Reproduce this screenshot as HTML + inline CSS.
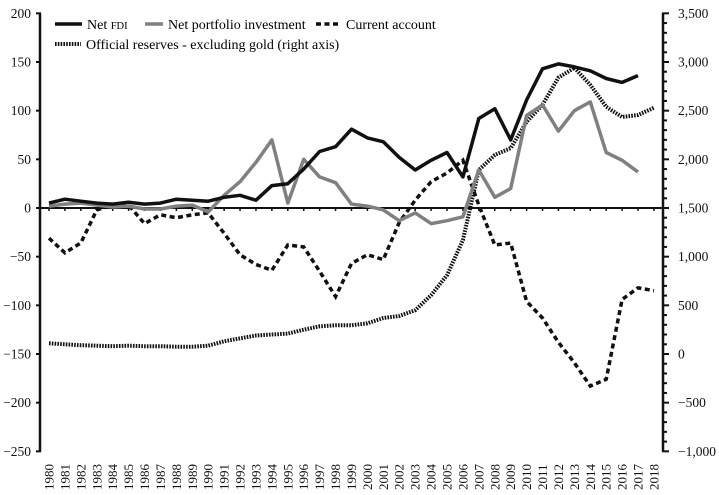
<!DOCTYPE html>
<html><head><meta charset="utf-8">
<style>
html,body{margin:0;padding:0;background:#fff;}
svg{display:block;font-family:"Liberation Serif",serif;}
</style></head>
<body>
<svg id="chart" width="719" height="495" viewBox="0 0 719 495" xmlns="http://www.w3.org/2000/svg">
<g id="axes"></g>
<g id="series"></g>
<g id="legend">
  <line x1="55" y1="24" x2="82" y2="24" stroke="#111" stroke-width="3.5"/>
  <text x="87" y="29" font-size="14">Net <tspan font-size="10.5">FDI</tspan></text>
  <line x1="145" y1="24" x2="163" y2="24" stroke="#808080" stroke-width="3.5"/>
  <text x="168" y="29" font-size="14">Net portfolio investment</text>
  <line x1="316" y1="24" x2="340" y2="24" stroke="#111" stroke-width="3.5" stroke-dasharray="5,3.5"/>
  <text x="346" y="29" font-size="14">Current account</text>
  <line x1="55" y1="44" x2="81" y2="44" stroke="#111" stroke-width="4" stroke-dasharray="1.6,1.2"/>
  <text x="86" y="49" font-size="14">Official reserves - excluding gold (right axis)</text>
</g>
</svg>
<script>
const years = [];
for (let y = 1980; y <= 2018; y++) years.push(y);
const netFDI = [5,9,7,5,4,6,4,5,9,8,7,11,13,8,23,25,40,58,63,81,72,68,52,39,49,57,32,92,102,70,111,143,148,145,141,133,129,136];
const netPortfolio = [2,4,5,3,1,2,-1,-1,2,3,-4,13,27,47,70,5,50,32,26,4,2,-2,-13,-5,-16,-13,-9,39,11,20,95,106,79,100,109,57,49,37];
const currentAccount = [-31,-46,-36,-2,3,3,-16,-7,-10,-7,-5,-26,-48,-58,-64,-38,-40,-65,-91,-57,-48,-53,-15,8,27,36,49,3,-38,-36,-96,-113,-138,-159,-183,-176,-94,-82,-85];
const reserves = [110,100,90,85,80,85,80,80,75,75,85,130,160,190,200,210,250,285,295,295,315,370,390,450,604,810,1170,1890,2045,2115,2385,2560,2840,2940,2765,2540,2435,2455,2530];
const leftTicks = [200,150,100,50,0,-50,-100,-150,-200,-250];
const rightTicks = [3500,3000,2500,2000,1500,1000,500,0,-500,-1000];

const NS = "http://www.w3.org/2000/svg";
const X0 = 49, XSTEP = 15.92;
const xs = yr => X0 + (yr - 1980) * XSTEP;
const yL = v => 208 - v * (438 / 450);
const yR = v => 208 - (v - 1500) * (438 / 4500);
function mk(tag, attrs, parent) {
  const e = document.createElementNS(NS, tag);
  for (const k in attrs) e.setAttribute(k, attrs[k]);
  parent.appendChild(e);
  return e;
}
const axes = document.getElementById('axes');
const series = document.getElementById('series');

let la = mk('line', {x1: 40, y1: yL(200), x2: 40, y2: yL(-250), stroke: '#111', 'stroke-width': 2.5}, axes);


leftTicks.forEach(v => {
  const t = mk('line', {x1: 36, y1: yL(v), x2: 41, y2: yL(v), stroke: '#111', 'stroke-width': 2}, axes);
  
  
  const tx = mk('text', {x: 31, y: yL(v) + 4.5, 'text-anchor': 'end', 'font-size': 13.5, fill: '#111'}, axes);
  tx.textContent = v < 0 ? '\u2212' + Math.abs(v) : String(v);
  
  
});
let ra = mk('line', {x1: 663, y1: yR(3500), x2: 663, y2: yR(-1000), stroke: '#111', 'stroke-width': 2.5}, axes);


for (let v = -1000; v <= 3500; v += 100) {
  const major = v % 500 === 0;
  const t = mk('line', {x1: 662, y1: yR(v), x2: major ? 669 : 667, y2: yR(v), stroke: '#111', 'stroke-width': 2}, axes);
  
  
}
rightTicks.forEach(v => {
  const tx = mk('text', {x: 678, y: yR(v) + 4.5, 'font-size': 13.5, fill: '#111'}, axes);
  const s = Math.abs(v).toLocaleString('en-US');
  tx.textContent = v < 0 ? '\u2212' + s : s;
  
  
});
let zl = mk('line', {x1: 40, y1: yL(0), x2: 663, y2: yL(0), stroke: '#111', 'stroke-width': 2}, axes);


years.forEach(yr => {
  const t = mk('line', {x1: xs(yr), y1: yL(0), x2: xs(yr), y2: yL(0) + 3, stroke: '#111', 'stroke-width': 1.5}, axes);
  
  
  const tx = mk('text', {transform: `translate(${xs(yr) + 4.5},490) rotate(-90)`, 'font-size': 13, fill: '#111'}, axes);
  tx.textContent = String(yr);
  
  
});

function path(vals, yf) {
  return vals.map((v, i) => (i ? 'L' : 'M') + xs(years[i]).toFixed(1) + ',' + yf(v).toFixed(1)).join(' ');
}
let pr = mk('path', {d: path(reserves, yR), fill: 'none', stroke: '#111', 'stroke-width': 4, 'stroke-dasharray': '1.6,1.2'}, series);


let pc = mk('path', {d: path(currentAccount, yL), fill: 'none', stroke: '#111', 'stroke-width': 3.5, 'stroke-dasharray': '5,3.5'}, series);


let pp = mk('path', {d: path(netPortfolio, yL), fill: 'none', stroke: '#808080', 'stroke-width': 3.5, 'stroke-linejoin': 'round'}, series);


let pf = mk('path', {d: path(netFDI, yL), fill: 'none', stroke: '#111', 'stroke-width': 3.5, 'stroke-linejoin': 'round'}, series);


</script>
</body></html>
